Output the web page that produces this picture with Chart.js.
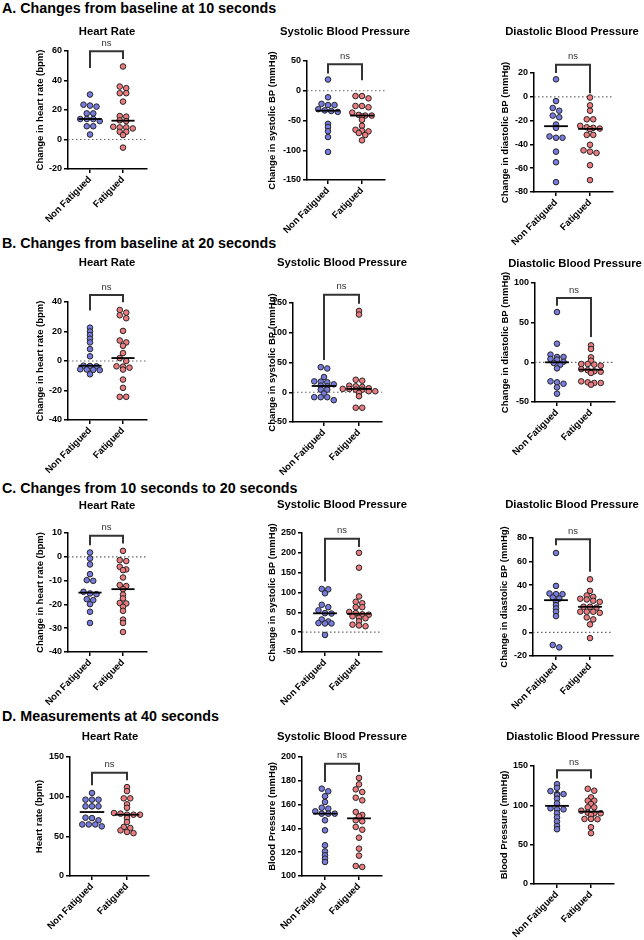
<!DOCTYPE html>
<html><head><meta charset="utf-8">
<script src="https://cdn.jsdelivr.net/npm/chart.js@4.4.1/dist/chart.umd.min.js"></script>
<style>
html,body{margin:0;padding:0;background:#fff;}
#wrap{position:relative;width:644px;height:940px;overflow:hidden;background:#fff;}
.sec{position:absolute;left:2px;font:bold 14.3px "Liberation Sans",Arial,sans-serif;color:#000;white-space:nowrap;line-height:16px;}
canvas{position:absolute;}
</style></head><body><div id="wrap"></div>
<script>
// ---------- text ----------
const groups = ["Non Fatigued", "Fatigued"];
const sectionTitles = ["A. Changes from baseline at 10 seconds", "B. Changes from baseline at 20 seconds", "C. Changes from 10 seconds to 20 seconds", "D. Measurements at 40 seconds"];
const panelTitles = ["Heart Rate", "Systolic Blood Pressure", "Diastolic Blood Pressure"];
const yTitlesChange = ["Change in heart rate (bpm)", "Change in systolic BP (mmHg)", "Change in diastolic BP (mmHg)"];
const yTitlesAbs = ["Heart rate (bpm)", "Blood Pressure (mmHg)", "Blood Pressure (mmHg)"];

// ---------- data ----------
// A. change from baseline at 10 s
const hr10NF  = [30.5, 23.6, 22.3, 23, 17.7, 17.7, 13.9, 13.9, 13.9, 12.5, 9, 9, 3.4];
const hr10F   = [49.5, 35.9, 34.8, 31.4, 31.4, 25.7, 15.9, 15.5, 13, 12.5, 8.6, 8.2, 8.2, 7.5, 5.2, 5.2, 3, -5.5];
const sbp10NF = [18.9, -11, -22, -24, -24, -31, -33, -34, -35.5, -55.6, -61, -68, -77.8, -102.8];
const sbp10F  = [-8.9, -8.9, -12.8, -25.6, -25.6, -27.8, -36.7, -40.6, -41.7, -41.7, -43.3, -48.9, -58.9, -65.6, -67.2, -68.3, -71, -74.4, -83.3];
const dbp10NF = [14.7, -3.6, -9.4, -11.7, -15.8, -17.2, -23.3, -26.1, -33.3, -34.4, -34.4, -46.1, -55, -71.7];
const dbp10F  = [-0.6, -7.2, -11.7, -18.9, -18.9, -24.4, -25.6, -26.1, -26.7, -27.2, -32, -32, -40.3, -45, -46.1, -47.2, -57.5, -70];
// B. change from baseline at 20 s
const hr20NF  = [22.6, 20, 17.6, 15.1, 12.6, 8.1, 3.2, -3.2, -3.4, -3.6, -5.6, -5.8, -6, -6.2, -9];
const hr20F   = [34.6, 32.8, 31, 29, 20.4, 13.9, 12.6, 10.3, 5.4, 2, 0, -3.6, -3.8, -4.5, -5.8, -12.6, -18.2, -24.3, -24.3];
const sbp20NF = [42.2, 40, 25.6, 18.3, 17.8, 16.7, 13.3, 11.1, 10, 4.4, 4.4, -2.2, -8.3, -8.3, -8.3, -13.3];
const sbp20F  = [136.7, 130.6, 21, 19.4, 11, 10, 8.9, 6.7, 5.6, 5.6, 4.4, 4.4, 1.7, 1.7, -1, -6.7, -26, -26];
const dbp20NF = [63.4, 23.5, 9.7, 6.7, 6.7, 4.2, 3.4, 0.8, -0.8, -2.9, -7.6, -24, -25.2, -27, -31.5, -39.5];
const dbp20F  = [21.4, 16.8, 6.3, 2.1, -2.1, -2.1, -2.9, -4.2, -8.5, -10, -11.3, -11.8, -13.4, -24, -25.2, -26, -26, -28.2];
// C. change from 10 s to 20 s
const hrDNF   = [1.8, -0.7, -3.2, -7.3, -9.8, -10.1, -14.7, -15.4, -15.7, -17.8, -18.2, -19.9, -23.1, -27.8];
const hrDF    = [2.5, -1.4, -1.8, -4.2, -5.3, -5.6, -8.7, -11.9, -12.3, -13.6, -15.9, -17.5, -19.4, -19.6, -21, -22.7, -26.4, -27.8, -31.6];
const sbpDNF  = [109, 108, 98, 69, 63, 55, 48, 47, 32, 27, 23, 22, 22, -7];
const sbpDF   = [200, 162.5, 90, 76.7, 73, 63, 63, 51, 48, 45, 44, 40, 36, 35, 27.5, 19, 17, 15];
const dbpDNF  = [67.3, 39.4, 33, 32.4, 32.4, 29.6, 28.7, 25.9, 23.1, 20.3, 17.5, 13.8, -10.7, -12.7];
const dbpDF   = [45, 35.2, 31.3, 30.1, 28.5, 27.9, 26.8, 25.9, 21.7, 21.7, 21.1, 17.5, 17.5, 16.6, 17.5, 12.7, 11, 6.8, -4.8];
// D. measurements at 40 s
const hr40NF  = [104.6, 96.2, 96.2, 96.2, 87.8, 87.8, 87.8, 73.5, 73, 70.2, 65, 65, 65, 62.6];
const hr40F   = [112, 107, 97.9, 97.9, 90.3, 86, 79.4, 78.6, 77.3, 77.3, 77.3, 73, 68, 61.8, 60.5, 57.5, 55.5, 54];
const sbp40NF = [173.4, 171.2, 167, 162.2, 157.4, 156.6, 154.3, 152.4, 152.4, 152.4, 146.8, 138.4, 125.8, 120.7, 117.4, 114.6, 111.8];
const sbp40F  = [182.4, 177, 172.8, 170.6, 165.8, 163.6, 153.8, 151.3, 150.1, 146, 146.8, 141.2, 138.9, 132.2, 123, 117.1, 108.4, 107.6];
const dbp40NF = [126.9, 122.3, 118.1, 114.3, 114.3, 113, 108.4, 102.5, 96.2, 94.9, 94.9, 89.9, 84.8, 79.3, 73.8, 69.6];
const dbp40F  = [121, 118.6, 110.1, 105.9, 105.9, 101.7, 97.5, 97.5, 93.2, 90.7, 89.9, 89.9, 87.8, 82.3, 82.7, 82.7, 72.2, 64.6];

// ---------- y tick labels ----------
const ticksHR10 = [-20, 0, 20, 40, 60];
const ticksSBP10 = [-150, -100, -50, 0, 50];
const ticksDBP10 = [-80, -60, -40, -20, 0, 20];
const ticksHR20 = [-40, -20, 0, 20, 40];
const ticksSBP20 = [-50, 0, 50, 100, 150];
const ticksDBP20 = [-50, 0, 50, 100];
const ticksHRD = [-40, -30, -20, -10, 0, 10];
const ticksSBPD = [-50, 0, 50, 100, 150, 200, 250];
const ticksDBPD = [-20, 0, 20, 40, 60, 80];
const ticksHR40 = [0, 50, 100, 150];
const ticksSBP40 = [100, 120, 140, 160, 180, 200];
const ticksDBP40 = [0, 50, 100, 150];

// ---------- layout (page pixels) ----------
const FONT = '"Liberation Sans", Arial, sans-serif';
const COLS = [[0, 215], [215, 215], [430, 214]];
const ROWS = [[16, 240], [240, 250], [480, 240], [712, 228]];
const SEC_TOP = [0, 235, 480, 708];
const BLUE = '#767bdd', RED = '#eb7b7e';

const panels = [
  {col:0,row:0,ti:0,yt:yTitlesChange[0],ticks:ticksHR10, nf:hr10NF, f:hr10F, zero:true, box:[68,51,147,169], cats:[90,123], tpos:[107,32], ytx:40, br:[59.8,48.4,54.5]},
  {col:1,row:0,ti:1,yt:yTitlesChange[1],ticks:ticksSBP10,nf:sbp10NF,f:sbp10F,zero:true, box:[307,61,385,180], cats:[328,362], tpos:[345,32], ytx:272, br:[44.4,28.9,17.8]},
  {col:2,row:0,ti:2,yt:yTitlesChange[2],ticks:ticksDBP10,nf:dbp10NF,f:dbp10F,zero:true, box:[534,73,613,192], cats:[556,590], tpos:[572,32], ytx:505, br:[26.9,20,3]},
  {col:0,row:1,ti:0,yt:yTitlesChange[0],ticks:ticksHR20, nf:hr20NF, f:hr20F, zero:true, box:[68,302,147,420], cats:[90,123], tpos:[107,263], ytx:40, br:[44.7,34.2,39.8]},
  {col:1,row:1,ti:1,yt:yTitlesChange[1],ticks:ticksSBP20,nf:sbp20NF,f:sbp20F,zero:true, box:[293,303,382,422], cats:[324,359], tpos:[342,263], ytx:272, br:[163.9,54.4,148.9]},
  {col:2,row:1,ti:2,yt:yTitlesChange[2],ticks:ticksDBP20,nf:dbp20NF,f:dbp20F,zero:true, box:[535,283,615,402], cats:[557,591], tpos:[575,264], ytx:505, br:[81,71.4,31.9]},
  {col:0,row:2,ti:0,yt:yTitlesChange[0],ticks:ticksHRD,  nf:hrDNF,  f:hrDF,  zero:true, box:[68,533,147,652], cats:[90,123], tpos:[107,506], ytx:40, br:[8.8,4.9,5.6]},
  {col:1,row:2,ti:1,yt:yTitlesChange[1],ticks:ticksSBPD, nf:sbpDNF, f:sbpDF, zero:true, box:[302,533,382,652], cats:[325,359], tpos:[342,505], ytx:272, br:[235.8,127.5,215]},
  {col:2,row:2,ti:2,yt:yTitlesChange[2],ticks:ticksDBPD, nf:dbpDNF, f:dbpDF, zero:true, box:[533,538,613,656], cats:[556,590], tpos:[572,505], ytx:504, br:[78.9,73.8,51.3]},
  {col:0,row:3,ti:0,yt:yTitlesAbs[0],   ticks:ticksHR40, nf:hr40NF, f:hr40F, zero:false,box:[70,757,149,876], cats:[92,127], tpos:[110,737], ytx:39, br:[130.3,114.3,120.6]},
  {col:1,row:3,ti:1,yt:yTitlesAbs[1],   ticks:ticksSBP40,nf:sbp40NF,f:sbp40F,zero:false,box:[302,757,382,876], cats:[325,359], tpos:[342,737], ytx:272, br:[194.4,179,187.4]},
  {col:2,row:3,ti:2,yt:yTitlesAbs[2],   ticks:ticksDBP40,nf:dbp40NF,f:dbp40F,zero:false,box:[534,766,614,884], cats:[557,591], tpos:[573,737], ytx:504, br:[144.7,134.2,134.2]}
];

const wrap = document.getElementById('wrap');
sectionTitles.forEach((t, i) => {
  const d = document.createElement('div');
  d.className = 'sec'; d.style.top = SEC_TOP[i] + 'px'; d.textContent = t;
  wrap.appendChild(d);
});

function median(a) {
  const s = [...a].sort((x, y) => x - y), n = s.length;
  return n % 2 ? s[(n - 1) / 2] : (s[n / 2 - 1] + s[n / 2]) / 2;
}

// Prism-like scatter-dot layout: values within a few pixels of each other form a
// horizontal row, centred on the category. Computed through the chart's own scales.
function swarm(values, center, chart, d, dyT) {
  const ys = chart.scales.y, xs = chart.scales.x;
  const ppu = xs.getPixelForValue(1) - xs.getPixelForValue(0);
  const order = values.map((v, i) => i).sort((a, b) => values[b] - values[a]);
  const rows = [];
  let cur = null;
  for (const i of order) {
    const py = ys.getPixelForValue(values[i]);
    if (cur && Math.abs(py - cur.y0) < dyT) cur.items.push(i);
    else { cur = {y0: py, items: [i]}; rows.push(cur); }
  }
  const out = new Array(values.length);
  rows.forEach(r => {
    const n = r.items.length;
    r.items.forEach((i, j) => {
      const off = (j - (n - 1) / 2) * d;
      out[i] = {x: center + off / ppu, y: values[i]};
    });
  });
  return out;
}

const tickFont = {family: FONT, size: 9, weight: 'bold'};
const xFont = {family: FONT, size: 9.5, weight: 'bold'};

panels.forEach(p => {
  const [cx, cw] = COLS[p.col], [cy, ch] = ROWS[p.row];
  const [L, T, R, B] = p.box, [c0, c1] = p.cats;
  const u = c1 - c0, xmin = -(c0 - L) / u, xmax = 1 + (R - c1) / u;
  const ymin = Math.min(...p.ticks), ymax = Math.max(...p.ticks);
  const canvas = document.createElement('canvas');
  canvas.width = cw; canvas.height = ch;
  canvas.style.left = cx + 'px'; canvas.style.top = cy + 'px';
  canvas.style.width = cw + 'px'; canvas.style.height = ch + 'px';
  wrap.appendChild(canvas);
  const mNF = median(p.nf), mF = median(p.f), hw = 0.35;
  const datasets = [
    {data: p.nf.map(v => ({x: 0, y: v})), backgroundColor: BLUE, borderColor: '#262626', borderWidth: 1, pointRadius: 2.8, order: 2, clip: false},
    {data: p.f.map(v => ({x: 1, y: v})), backgroundColor: RED, borderColor: '#262626', borderWidth: 1, pointRadius: 2.8, order: 2, clip: false},
    {data: [{x: -hw, y: mNF}, {x: hw, y: mNF}], showLine: true, borderColor: '#000', borderWidth: 1.8, pointRadius: 0, order: 1},
    {data: [{x: 1 - hw, y: mF}, {x: 1 + hw, y: mF}], showLine: true, borderColor: '#000', borderWidth: 1.8, pointRadius: 0, order: 1}
  ];
  if (p.zero) datasets.push({data: [{x: xmin, y: 0}, {x: xmax, y: 0}], showLine: true, borderColor: '#666', borderWidth: 1.2, borderDash: [1.5, 2.5], pointRadius: 0, order: 3});
  const annot = {
    id: 'annot',
    afterDraw(chart) {
      const ctx = chart.ctx, xs = chart.scales.x, ys = chart.scales.y;
      ctx.save();
      ctx.fillStyle = '#000'; ctx.textAlign = 'center'; ctx.textBaseline = 'middle';
      ctx.font = 'bold 11.3px ' + FONT;
      ctx.fillText(panelTitles[p.ti], p.tpos[0] - cx, p.tpos[1] - cy);
      ctx.save();
      ctx.font = 'bold 9.5px ' + FONT;
      ctx.translate(p.ytx - cx, (ys.top + ys.bottom) / 2);
      ctx.rotate(-Math.PI / 2);
      ctx.fillText(p.yt, 0, 0);
      ctx.restore();
      const x0 = xs.getPixelForValue(0), x1 = xs.getPixelForValue(1);
      const yt = ys.getPixelForValue(p.br[0]), yl = ys.getPixelForValue(p.br[1]), yr = ys.getPixelForValue(p.br[2]);
      ctx.strokeStyle = '#333'; ctx.lineWidth = 2;
      ctx.beginPath(); ctx.moveTo(x0, yl); ctx.lineTo(x0, yt); ctx.lineTo(x1, yt); ctx.lineTo(x1, yr); ctx.stroke();
      ctx.fillStyle = '#333'; ctx.font = '9.5px ' + FONT;
      ctx.fillText('ns', (x0 + x1) / 2, yt - 8);
      ctx.restore();
    }
  };
  const chart = new Chart(canvas, {
    type: 'scatter',
    data: {datasets},
    options: {
      responsive: false, animation: false, events: [],
      layout: {padding: {left: 0, top: T - cy, right: cx + cw - R, bottom: 0}},
      plugins: {legend: {display: false}, tooltip: {enabled: false}, title: {display: false}},
      scales: {
        x: {
          type: 'linear', min: xmin, max: xmax,
          afterFit: s => { s.height = cy + ch - B; },
          afterBuildTicks: s => { s.ticks = groups.map((g, i) => ({value: i})); },
          ticks: {callback: v => groups[v], minRotation: 45, maxRotation: 45, autoSkip: false, font: xFont, color: '#000', padding: 1},
          grid: {display: true, drawOnChartArea: false, drawTicks: true, tickLength: 4, color: '#000', tickColor: '#000', lineWidth: 1.5},
          border: {display: true, color: '#000', width: 1.5}
        },
        y: {
          type: 'linear', min: ymin, max: ymax,
          afterFit: s => { s.width = L - cx; },
          afterBuildTicks: s => { s.ticks = p.ticks.map(v => ({value: v})); },
          ticks: {font: tickFont, color: '#000', padding: 2},
          grid: {display: true, drawOnChartArea: false, drawTicks: true, tickLength: 4, color: '#000', tickColor: '#000', lineWidth: 1.5},
          border: {display: true, color: '#000', width: 1.5}
        }
      }
    },
    plugins: [annot]
  });
  chart.data.datasets[0].data = swarm(p.nf, 0, chart, 6.5, 3.2);
  chart.data.datasets[1].data = swarm(p.f, 1, chart, 6.5, 3.2);
  chart.update('none');
});
</script></body></html>
